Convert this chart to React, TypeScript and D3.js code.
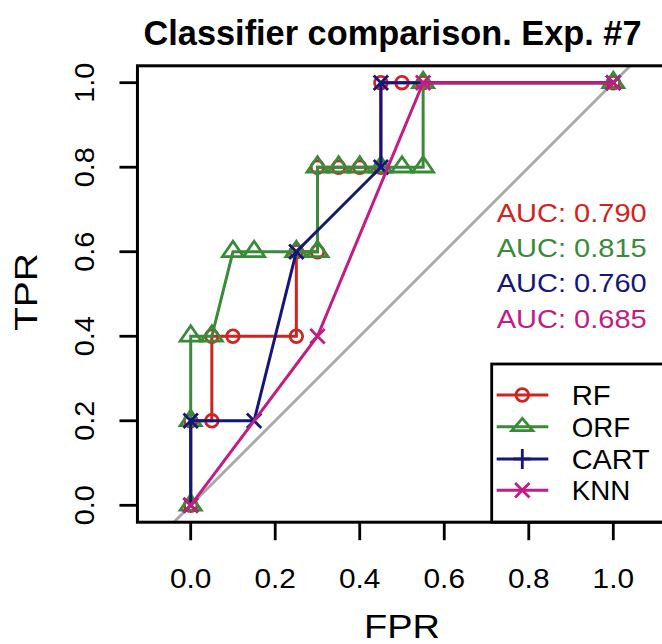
import React from "react";
import * as d3 from "d3";

const seriesNames = ["RF", "ORF", "CART", "KNN"];
const seriesColors = ["#d22323", "#3a8a3a", "#16167a", "#c31c84"];
const aucLabels = ["0.790", "0.815", "0.760", "0.685"];

const rfFpr = [0, 0, 0.05, 0.05, 0.1, 0.25, 0.25, 0.3, 0.3, 0.35, 0.4, 0.45, 0.45, 0.5, 0.55, 1];
const rfTpr = [0, 0.2, 0.2, 0.4, 0.4, 0.4, 0.6, 0.6, 0.8, 0.8, 0.8, 0.8, 1, 1, 1, 1];

const orfFpr = [0, 0, 0, 0.05, 0.1, 0.15, 0.25, 0.3, 0.3, 0.35, 0.4, 0.45, 0.5, 0.55, 0.55, 1];
const orfTpr = [0, 0.2, 0.4, 0.4, 0.6, 0.6, 0.6, 0.6, 0.8, 0.8, 0.8, 0.8, 0.8, 0.8, 1, 1];

const cartFpr = [0, 0, 0.15, 0.25, 0.45, 0.45, 1];
const cartTpr = [0, 0.2, 0.2, 0.6, 0.8, 1, 1];

const knnFpr = [0, 0.3, 0.55, 1];
const knnTpr = [0, 0.4, 1, 1];

const tickValues = [0, 0.2, 0.4, 0.6, 0.8, 1.0];

const series = [
  { fpr: rfFpr, tpr: rfTpr, marker: "circle" },
  { fpr: orfFpr, tpr: orfTpr, marker: "triangle" },
  { fpr: cartFpr, tpr: cartTpr, marker: "x" },
  { fpr: knnFpr, tpr: knnTpr, marker: "x" },
];
const legendMarkers = ["circle", "triangle", "plus", "x"];

const W = 662;
const H = 644;
const x = d3.scaleLinear().domain([0, 1]).range([190.7, 613.3]);
const y = d3.scaleLinear().domain([0, 1]).range([505.3, 82.7]);
const xMin = -0.126, xMax = 1.126, yMin = -0.04, yMax = 1.04;
const font = "'Liberation Sans', Arial, Helvetica, sans-serif";

function Marker({ type, cx, cy, color, legend }: any) {
  const sw = 2.8;
  if (type === "circle") {
    return <circle cx={cx} cy={cy} r={6.3} fill="none" stroke={color} strokeWidth={sw} />;
  }
  if (type === "triangle") {
    const h = legend ? 0.8 : 1;
    const p = `${cx},${cy - 10.5 * h} ${cx - 10.5},${cy + 4.8 * h} ${cx + 10.5},${cy + 4.8 * h}`;
    return <polygon points={p} fill="none" stroke={color} strokeWidth={sw} strokeLinejoin="miter" />;
  }
  if (type === "plus") {
    return (
      <g stroke={color} strokeWidth={sw}>
        <line x1={cx - 9} y1={cy} x2={cx + 9} y2={cy} />
        <line x1={cx} y1={cy - 10} x2={cx} y2={cy + 10} />
      </g>
    );
  }
  const s = 7.2;
  return (
    <g stroke={color} strokeWidth={sw}>
      <line x1={cx - s} y1={cy - s} x2={cx + s} y2={cy + s} />
      <line x1={cx - s} y1={cy + s} x2={cx + s} y2={cy - s} />
    </g>
  );
}

export default function App() {
  const line = d3
    .line<[number, number]>()
    .x((d) => x(d[0]))
    .y((d) => y(d[1]));

  const left = x(xMin), right = x(xMax), top = y(yMax), bottom = y(yMin);

  const legX = 491.7;
  const legTop = 364;
  const legYs = [395, 426.7, 459, 490.3];
  const aucYs = [221.7, 256.7, 292.3, 327.7];

  return (
    <svg
      width={W}
      height={H}
      style={{ position: "absolute", left: 0, top: 0, background: "#fff" }}
      fontFamily={font}
    >
      <rect x={0} y={0} width={W} height={H} fill="#fff" />
      <defs>
        <clipPath id="plotClip">
          <rect x={left} y={top} width={right - left} height={bottom - top} />
        </clipPath>
      </defs>

      {/* title */}
      <text x={392.5} y={45} textAnchor="middle" fontSize={35} fontWeight="bold" textLength={498} lengthAdjust="spacingAndGlyphs">
        Classifier comparison. Exp. #7
      </text>

      {/* diagonal */}
      <line
        x1={x(-0.2)} y1={y(-0.2)} x2={x(1.2)} y2={y(1.2)}
        stroke="#a8a8a8" strokeWidth={2.8} clipPath="url(#plotClip)"
      />

      {/* series */}
      {series.map((s, i) => {
        const pts: [number, number][] = s.fpr.map((f, k) => [f, s.tpr[k]]);
        return (
          <g key={i}>
            <path d={line(pts) || ""} fill="none" stroke={seriesColors[i]} strokeWidth={3} />
            {pts.map((p, k) => (
              <Marker key={k} type={s.marker} cx={x(p[0])} cy={y(p[1])} color={seriesColors[i]} />
            ))}
          </g>
        );
      })}

      {/* AUC labels */}
      {aucLabels.map((a, i) => (
        <text key={i} x={496.7} y={aucYs[i]} fontSize={26} fill={seriesColors[i]} textLength={150} lengthAdjust="spacingAndGlyphs">
          {`AUC: ${a}`}
        </text>
      ))}

      {/* legend */}
      <rect x={legX} y={legTop} width={right - legX} height={bottom - legTop} fill="#fff" stroke="#000" strokeWidth={2.8} />
      {seriesNames.map((n, i) => (
        <g key={n}>
          <line x1={496.7} x2={548.3} y1={legYs[i]} y2={legYs[i]} stroke={seriesColors[i]} strokeWidth={3} />
          <Marker type={legendMarkers[i]} cx={522.3} cy={legYs[i]} color={seriesColors[i]} legend />
          <text x={571.7} y={legYs[i] + 10} fontSize={28} fill="#000" textLength={n.length * 19.5} lengthAdjust="spacingAndGlyphs">
            {n}
          </text>
        </g>
      ))}

      {/* box */}
      <rect x={left} y={top} width={right - left} height={bottom - top} fill="none" stroke="#000" strokeWidth={3} />

      {/* x axis */}
      {tickValues.map((t) => (
        <g key={"x" + t}>
          <line x1={x(t)} x2={x(t)} y1={bottom} y2={bottom + 18} stroke="#000" strokeWidth={2.8} />
          <text x={x(t)} y={588} textAnchor="middle" fontSize={28} textLength={41.5} lengthAdjust="spacingAndGlyphs">
            {t.toFixed(1)}
          </text>
        </g>
      ))}
      {/* y axis */}
      {tickValues.map((t) => (
        <g key={"y" + t}>
          <line x1={left - 18} x2={left} y1={y(t)} y2={y(t)} stroke="#000" strokeWidth={2.8} />
          <text
            transform={`translate(94,${y(t)}) rotate(-90)`}
            textAnchor="middle"
            fontSize={28}
            textLength={40}
            lengthAdjust="spacingAndGlyphs"
          >
            {t.toFixed(1)}
          </text>
        </g>
      ))}

      <text x={402} y={638} textAnchor="middle" fontSize={33} textLength={76} lengthAdjust="spacingAndGlyphs">
        FPR
      </text>
      <text transform={`translate(36.7,292) rotate(-90)`} textAnchor="middle" fontSize={32} textLength={78} lengthAdjust="spacingAndGlyphs">
        TPR
      </text>
    </svg>
  );
}
